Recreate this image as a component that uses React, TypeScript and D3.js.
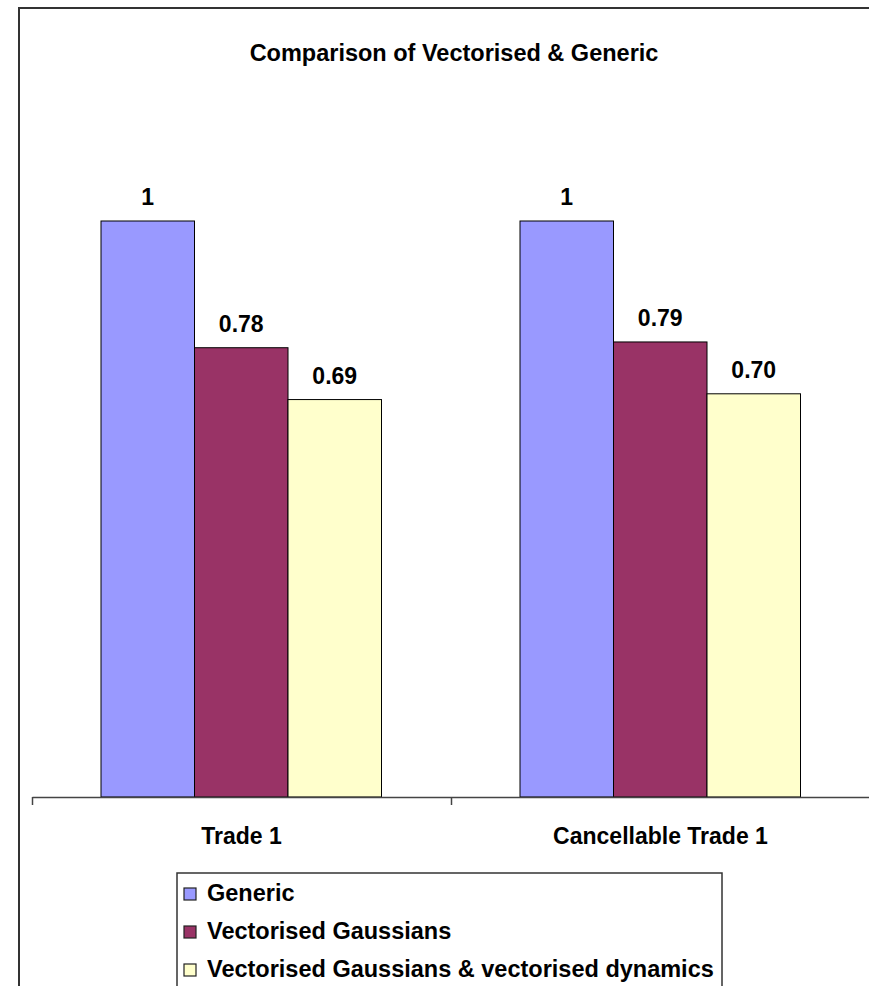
import React, { useEffect, useRef } from 'react'
import * as d3 from 'd3'

const categories = ['Trade 1', 'Cancellable Trade 1']
const seriesNames = ['Generic', 'Vectorised Gaussians', 'Vectorised Gaussians & vectorised dynamics']
const seriesColors = ['#9999ff', '#993366', '#ffffcc']
const generic = [1, 1]
const vectorisedGaussians = [0.78, 0.79]
const vectorisedDynamics = [0.69, 0.7]
const valueLabels = [['1', '1'], ['0.78', '0.79'], ['0.69', '0.70']]

const W = 869
const H = 986
const FONT = '"Liberation Sans", Arial, sans-serif'

export default function App() {
  const svgRef = useRef<SVGSVGElement>(null)

  useEffect(() => {
    if (!svgRef.current) return
    const svg = d3.select(svgRef.current)
    svg.selectAll('*').remove()

    const seriesValues = [generic, vectorisedGaussians, vectorisedDynamics]

    svg.append('rect').attr('width', W).attr('height', H).attr('fill', '#fff')

    // chart border (only top and left visible)
    svg.append('path')
      .attr('d', `M19,${H + 5} L19,8 L${W + 5},8`)
      .attr('fill', 'none')
      .attr('stroke', '#333')
      .attr('stroke-width', 2)

    // title
    svg.append('text')
      .attr('x', 454)
      .attr('y', 61)
      .attr('text-anchor', 'middle')
      .style('font-family', FONT)
      .style('font-weight', 'bold')
      .style('font-size', '23.5px')
      .text('Comparison of Vectorised & Generic')

    // scales
    const left = 32
    const right = 870
    const baseline = 797
    const x0 = d3.scaleBand<string>().domain(categories).range([left, right])
    const x1 = d3.scaleBand<string>().domain(seriesNames).range([69, 349.5])
    const y = d3.scaleLinear().domain([0, 1]).range([baseline, 221])

    const g = svg.append('g')

    categories.forEach((cat, ci) => {
      const cg = g.append('g').attr('transform', `translate(${x0(cat)},0)`)
      seriesNames.forEach((s, si) => {
        const v = seriesValues[si][ci]
        cg.append('rect')
          .attr('x', x1(s)!)
          .attr('y', y(v))
          .attr('width', x1.bandwidth())
          .attr('height', baseline - y(v))
          .attr('fill', seriesColors[si])
          .attr('stroke', '#000')
          .attr('stroke-width', 1)

        cg.append('text')
          .attr('x', x1(s)! + x1.bandwidth() / 2)
          .attr('y', y(v) - 16)
          .attr('text-anchor', 'middle')
          .style('font-family', FONT)
          .style('font-weight', 'bold')
          .style('font-size', '23px')
          .text(valueLabels[si][ci])
      })
    })

    // category axis with ticks at category boundaries
    const xb = d3.scaleLinear().domain([0, categories.length]).range([left, right])
    const axis = svg.append('g')
      .attr('transform', `translate(0,${baseline})`)
      .call(d3.axisBottom(xb).tickValues(d3.range(categories.length + 1)).tickSize(8).tickSizeOuter(0).tickFormat(() => ''))
    axis.select('.domain').attr('stroke', '#444').attr('stroke-width', 1.5)
    axis.selectAll('.tick line').attr('stroke', '#444').attr('stroke-width', 1.5)

    categories.forEach(cat => {
      svg.append('text')
        .attr('x', x0(cat)! + x0.bandwidth() / 2)
        .attr('y', 844)
        .attr('text-anchor', 'middle')
        .style('font-family', FONT)
        .style('font-weight', 'bold')
        .style('font-size', '23px')
        .text(cat)
    })

    // legend
    const legend = svg.append('g')
    legend.append('rect')
      .attr('x', 177)
      .attr('y', 873)
      .attr('width', 545)
      .attr('height', 130)
      .attr('fill', '#fff')
      .attr('stroke', '#333')
      .attr('stroke-width', 1.5)

    seriesNames.forEach((s, i) => {
      const yy = 901 + i * 38
      legend.append('rect')
        .attr('x', 184)
        .attr('y', yy - 13)
        .attr('width', 12)
        .attr('height', 12)
        .attr('fill', seriesColors[i])
        .attr('stroke', '#222')
        .attr('stroke-width', 1.2)
      legend.append('text')
        .attr('x', 207)
        .attr('y', yy)
        .style('font-family', FONT)
        .style('font-weight', 'bold')
        .style('font-size', '23.5px')
        .text(s)
    })
  }, [])

  return (
    <svg
      ref={svgRef}
      width={W}
      height={H}
      style={{ position: 'absolute', left: 0, top: 0, display: 'block' }}
    />
  )
}
